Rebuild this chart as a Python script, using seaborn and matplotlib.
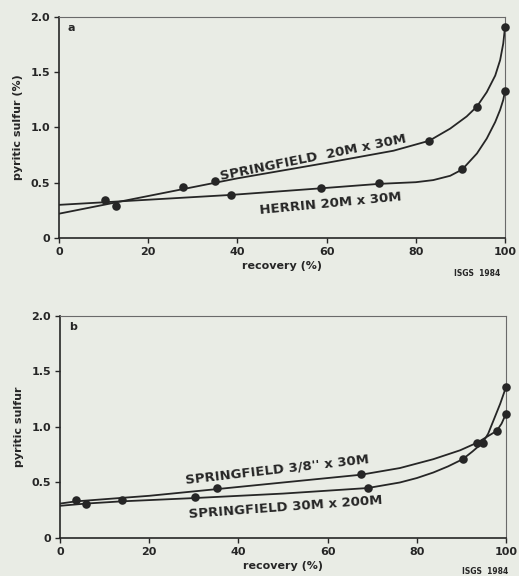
import pandas as pd
import seaborn as sns
import matplotlib.pyplot as plt
import numpy as np

sns.set_theme(style="ticks")
plt.rcParams['font.family'] = ['DejaVu Sans']

bg = '#e9ece5'
ink = '#262626'

# ---- panel a: measured points
spr_a_x = [12.8, 27.7, 35.0, 83.0, 93.7, 100.0]
spr_a_y = [0.29, 0.46, 0.52, 0.88, 1.19, 1.91]
her_a_x = [10.2, 38.6, 58.8, 71.8, 90.4, 100.0]
her_a_y = [0.34, 0.39, 0.45, 0.50, 0.62, 1.33]
# panel a: hand drawn curves
spr_a_cx = [0, 20, 40, 60, 75, 83, 87.7, 91.4, 93.7, 95.9, 97.8, 98.9, 99.6, 100]
spr_a_cy = [0.22, 0.38, 0.54, 0.68, 0.79, 0.88, 0.99, 1.10, 1.19, 1.32, 1.47, 1.61, 1.76, 1.91]
her_a_cx = [0, 13, 38.6, 58.8, 71.8, 80, 83.9, 87.7, 90.4, 93.7, 95.9, 97.8, 98.9, 99.6, 100]
her_a_cy = [0.30, 0.33, 0.39, 0.45, 0.49, 0.505, 0.524, 0.563, 0.62, 0.765, 0.90, 1.05, 1.16, 1.25, 1.33]

# ---- panel b: measured points
s38_x = [3.6, 35.1, 67.5, 93.6, 97.9, 100.0]
s38_y = [0.34, 0.45, 0.58, 0.86, 0.965, 1.12]
s200_x = [5.8, 13.8, 30.3, 69.0, 90.3, 94.8, 100.0]
s200_y = [0.31, 0.34, 0.37, 0.45, 0.71, 0.86, 1.36]
# panel b: curves
s38_cx = [0, 3.6, 20, 35.1, 50, 67.5, 76.2, 83.7, 89.7, 93.6, 97.9, 99.0, 100]
s38_cy = [0.31, 0.33, 0.38, 0.44, 0.50, 0.57, 0.63, 0.71, 0.79, 0.86, 0.965, 1.03, 1.12]
s200_cx = [0, 5.8, 13.8, 30.3, 50, 69, 76.2, 80, 83.7, 87, 90.3, 92.5, 94.8, 96, 97.2, 98.7, 100]
s200_cy = [0.29, 0.31, 0.33, 0.36, 0.40, 0.45, 0.50, 0.54, 0.59, 0.645, 0.71, 0.78, 0.86, 0.94, 1.06, 1.21, 1.36]

xticks = [0, 20, 40, 60, 80, 100]
yticks = [0, 0.5, 1.0, 1.5, 2.0]
yticklabels = ['0', '0.5', '1.0', '1.5', '2.0']

fig = plt.figure(figsize=(5.19, 5.76), dpi=100, facecolor=bg)
ax1 = fig.add_axes([0.1137, 0.5868, 0.8594, 0.3837])
ax2 = fig.add_axes([0.1156, 0.066, 0.8594, 0.3854])


def style(ax, ylabel, tag):
    ax.set_facecolor(bg)
    ax.set_xlim(0, 100)
    ax.set_ylim(0, 2.0)
    ax.set_xticks(xticks)
    ax.set_xticklabels([str(t) for t in xticks])
    ax.set_yticks(yticks)
    ax.set_yticklabels(yticklabels)
    ax.tick_params(direction='out', length=3.5, width=1.0, color=ink,
                   labelsize=8, labelcolor=ink, pad=3)
    for lab in ax.get_xticklabels() + ax.get_yticklabels():
        lab.set_fontweight('bold')
    for s in ['left', 'bottom']:
        ax.spines[s].set_color(ink)
        ax.spines[s].set_linewidth(1.2)
    for s in ['top', 'right']:
        ax.spines[s].set_visible(True)
        ax.spines[s].set_color('#6a6a6a')
        ax.spines[s].set_linewidth(0.8)
    ax.set_xlabel('recovery (%)', fontsize=8, fontweight='bold', color=ink, labelpad=3)
    ax.set_ylabel(ylabel, fontsize=8, fontweight='bold', color=ink, labelpad=5)
    ax.text(0.02, 0.975, tag, transform=ax.transAxes, fontsize=8,
            fontweight='bold', color=ink, va='top', ha='left')


def curve(ax, cx, cy, px, py):
    sns.lineplot(x=cx, y=cy, ax=ax, color=ink, linewidth=1.3,
                 sort=False, estimator=None)
    sns.scatterplot(x=px, y=py, ax=ax, color=ink, s=38, edgecolor=ink,
                    linewidth=0, zorder=5, clip_on=False)


curve(ax1, spr_a_cx, spr_a_cy, spr_a_x, spr_a_y)
curve(ax1, her_a_cx, her_a_cy, her_a_x, her_a_y)
style(ax1, 'pyritic sulfur (%)', 'a')
ax1.text(57, 0.73, 'SPRINGFIELD  20M x 30M', rotation=11.5, fontsize=9.5,
         fontweight='bold', color=ink, ha='center', va='center')
ax1.text(60.8, 0.31, 'HERRIN 20M x 30M', rotation=5.5, fontsize=9.5,
         fontweight='bold', color=ink, ha='center', va='center')
fig.text(477 / 519, 1 - 274 / 576, 'ISGS  1984', fontsize=5.5,
         fontweight='bold', color=ink, ha='center', va='center')

curve(ax2, s38_cx, s38_cy, s38_x, s38_y)
curve(ax2, s200_cx, s200_cy, s200_x, s200_y)
style(ax2, 'pyritic sulfur', 'b')
ax2.text(48.7, 0.615, "SPRINGFIELD 3/8'' x 30M", rotation=6.5, fontsize=9.5,
         fontweight='bold', color=ink, ha='center', va='center')
ax2.text(50.6, 0.28, 'SPRINGFIELD 30M x 200M', rotation=4.2, fontsize=9.5,
         fontweight='bold', color=ink, ha='center', va='center')
fig.text(485 / 519, 1 - 572 / 576, 'ISGS  1984', fontsize=5.5,
         fontweight='bold', color=ink, ha='center', va='center')

fig.savefig('out.png', dpi=100, facecolor=bg)
